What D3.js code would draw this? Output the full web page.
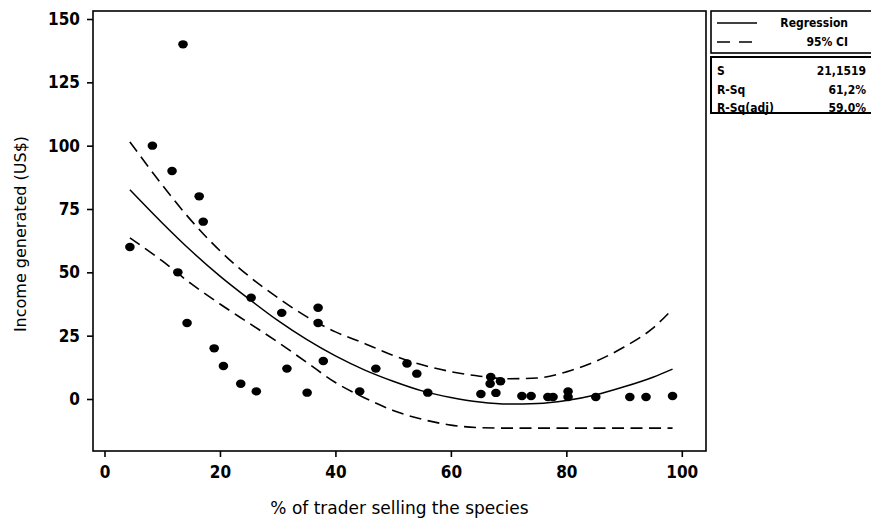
<!DOCTYPE html>
<html>
<head>
<meta charset="utf-8">
<script src="https://cdn.jsdelivr.net/npm/d3@7"></script>
<style>
  html, body { margin: 0; padding: 0; background: #fff; }
  svg { display: block; font-family: "DejaVu Sans", sans-serif; }
</style>
</head>
<body>
<svg id="chart" width="871" height="520"></svg>
<script>
// Observed traders share vs. income
const shareX = [4.4, 8.3, 11.7, 12.7, 13.6, 14.3, 16.4, 17.1, 19.0, 20.6, 23.6, 25.4, 26.3,
  30.7, 31.6, 35.1, 37.0, 37.0, 37.9, 44.2, 47.0, 52.4, 54.1, 56.0, 65.2, 66.8, 66.9,
  67.8, 68.6, 72.3, 73.9, 76.8, 77.7, 80.3, 80.3, 85.1, 91.0, 93.8, 98.4];
const incomeY = [60, 100, 90, 50, 140, 30, 80, 70, 20, 13, 6, 40, 3,
  34, 12, 2.5, 36, 30, 15, 3, 12, 14, 10, 2.5, 2, 6, 8.7,
  2.4, 7, 1.2, 1.2, 0.8, 0.8, 3, 0.8, 0.8, 0.8, 0.8, 1.2];

// Fitted curve and confidence band, sampled along x
const fitX = [4.4, 10, 15, 20, 25, 30, 35, 40, 45, 50, 55, 60, 65, 70, 75, 80, 85, 90, 95, 98.4];
const fitY = [82.6, 69.5, 58.5, 48.5, 39.5, 31.0, 23.5, 17.0, 11.5, 7.0, 3.2, 0.6, -1.2, -2.0, -1.8, -0.6, 1.6, 4.8, 8.6, 11.8];
const ciUpper = [101.5, 84.5, 70.5, 58.5, 48.5, 40.0, 32.5, 26.5, 22.0, 17.2, 13.5, 10.8, 9.0, 8.0, 8.3, 10.7, 14.8, 20.5, 28.0, 35.5];
const ciLower = [63.6, 54.5, 45.5, 37.5, 30.0, 22.5, 14.5, 6.5, 0.5, -4.5, -8.0, -10.3, -11.3, -11.5, -11.5, -11.5, -11.5, -11.5, -11.5, -11.5];

const xTicks = [0, 20, 40, 60, 80, 100];
const yTicks = [0, 25, 50, 75, 100, 125, 150];

const legendItems = ["Regression", "95% CI"];
const statNames = ["S", "R-Sq", "R-Sq(adj)"];
const statValues = ["21,1519", "61,2%", "59,0%"];

const svg = d3.select("#chart");

const frame = { left: 93, right: 706, top: 11, bottom: 451 };
const x = d3.scaleLinear().domain([0, 100]).range([104.5, 681.8]);
const y = d3.scaleLinear().domain([0, 150]).range([399, 19]);

// plot frame
svg.append("rect")
  .attr("x", frame.left).attr("y", frame.top)
  .attr("width", frame.right - frame.left).attr("height", frame.bottom - frame.top)
  .attr("fill", "none").attr("stroke", "#000").attr("stroke-width", 1.6);

// axes
const xAxis = svg.append("g")
  .attr("transform", `translate(0,${frame.bottom})`)
  .call(d3.axisBottom(x).tickValues(xTicks).tickSize(6).tickPadding(6).tickFormat(d3.format("d")));
const yAxis = svg.append("g")
  .attr("transform", `translate(${frame.left},0)`)
  .call(d3.axisLeft(y).tickValues(yTicks).tickSize(6).tickPadding(7).tickFormat(d3.format("d")));

[xAxis, yAxis].forEach(g => {
  g.select(".domain").remove();
  g.selectAll(".tick line").attr("stroke", "#000").attr("stroke-width", 1.6);
  g.selectAll(".tick text")
    .attr("fill", "#000")
    .style("font-family", "'DejaVu Sans Condensed', 'DejaVu Sans', sans-serif")
    .style("font-size", "17px")
    .style("font-weight", "bold");
});
xAxis.selectAll(".tick text").attr("dy", "0.9em");

// axis titles
svg.append("text")
  .attr("x", (frame.left + frame.right) / 2).attr("y", 514)
  .attr("text-anchor", "middle")
  .style("font-size", "17px")
  .text("% of trader selling the species");

svg.append("text")
  .attr("transform", "translate(26,234) rotate(-90)")
  .attr("text-anchor", "middle")
  .style("font-size", "16px")
  .text("Income generated (US$)");

// fitted line and confidence band
const line = d3.line().curve(d3.curveMonotoneX);
const pts = vals => fitX.map((v, i) => [x(v), y(vals[i])]);

svg.append("path")
  .attr("d", line(pts(fitY)))
  .attr("fill", "none").attr("stroke", "#000").attr("stroke-width", 1.5);

[ciUpper, ciLower].forEach(vals => {
  svg.append("path")
    .attr("d", line(pts(vals)))
    .attr("fill", "none").attr("stroke", "#000").attr("stroke-width", 1.6)
    .attr("stroke-dasharray", "12,6.5");
});

// observations
svg.append("g").selectAll("ellipse")
  .data(shareX.map((v, i) => [v, incomeY[i]]))
  .join("ellipse")
  .attr("cx", d => x(d[0])).attr("cy", d => y(d[1]))
  .attr("rx", 4.8).attr("ry", 4.2)
  .attr("fill", "#000");

const legendFont = "'DejaVu Sans Condensed', 'DejaVu Sans', sans-serif";

// legend box
const lg = svg.append("g");
lg.append("rect")
  .attr("x", 711).attr("y", 11).attr("width", 170).attr("height", 42)
  .attr("fill", "#fff").attr("stroke", "#000").attr("stroke-width", 1.6);
legendItems.forEach((name, i) => {
  const yy = 23 + i * 19;
  lg.append("line")
    .attr("x1", 717).attr("x2", 757).attr("y1", yy).attr("y2", yy)
    .attr("stroke", "#000").attr("stroke-width", 1.6)
    .attr("stroke-dasharray", i === 0 ? null : "13,9");
  lg.append("text")
    .attr("x", 848).attr("y", yy).attr("dy", "0.35em")
    .attr("text-anchor", "end")
    .style("font-family", legendFont)
    .style("font-size", "12px").style("font-weight", "bold")
    .text(name);
});

// fit statistics box
const sg = svg.append("g");
sg.append("rect")
  .attr("x", 711).attr("y", 57).attr("width", 170).attr("height", 56)
  .attr("fill", "#fff").attr("stroke", "#000").attr("stroke-width", 2);
statNames.forEach((name, i) => {
  const yy = 71 + i * 18.5;
  sg.append("text")
    .attr("x", 717).attr("y", yy).attr("dy", "0.35em")
    .style("font-family", legendFont)
    .style("font-size", "12px").style("font-weight", "bold")
    .text(name);
  sg.append("text")
    .attr("x", 866).attr("y", yy).attr("dy", "0.35em")
    .attr("text-anchor", "end")
    .style("font-family", legendFont)
    .style("font-size", "12px").style("font-weight", "bold")
    .text(statValues[i]);
});
</script>
</body>
</html>
